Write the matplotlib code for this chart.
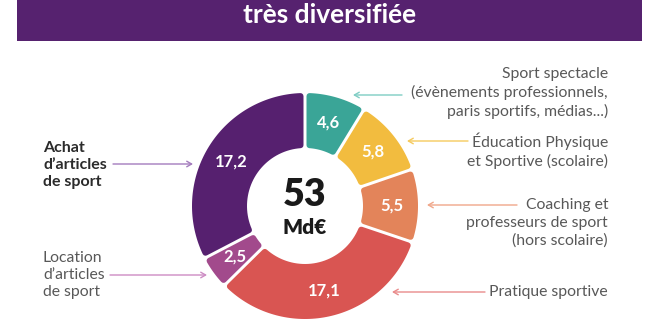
import numpy as np
import matplotlib
matplotlib.use("Agg")
import matplotlib.pyplot as plt
from matplotlib.patches import Polygon, Rectangle

plt.rcParams["font.family"] = ["Lato", "DejaVu Sans"]

# data
categories = [
    "Sport spectacle",
    "Éducation Physique et Sportive",
    "Coaching et professeurs",
    "Pratique sportive",
    "Location d'articles",
    "Achat d'articles",
]
values = [4.6, 5.8, 5.5, 17.1, 2.5, 17.2]
value_labels = ["4,6", "5,8", "5,5", "17,1", "2,5", "17,2"]
total_label = "53"
unit_label = "Md€"
title = "très diversifiée"

right_labels = [
    "Sport spectacle\n(évènements professionnels,\nparis sportifs, médias...)",
    "Éducation Physique\net Sportive (scolaire)",
    "Coaching et\nprofesseurs de sport\n(hors scolaire)",
    "Pratique sportive",
]
left_labels = ["Achat\nd’articles\nde sport", "Location\nd’articles\nde sport"]

colors = ["#3aa597", "#f2bc3f", "#e3845a", "#d95552", "#a24a8c", "#56206f"]
arrow_colors = ["#7fcdc4", "#f5ca5e", "#f0a78a", "#e98b8b", "#cd8cc4", "#a47cbd"]

W, H = 660, 336
fig = plt.figure(figsize=(W / 100, H / 100), dpi=100)
ax = fig.add_axes([0, 0, 1, 1])
ax.set_xlim(0, W)
ax.set_ylim(H, 0)
ax.axis("off")

# banner
ax.add_patch(Rectangle((17, -5), 625, 46, facecolor="#56226f", edgecolor="none"))
ax.text(329.5, 15, title, color="white", fontsize=19, fontweight="bold",
        ha="center", va="center")

# donut
cx, cy = 305, 206
R, r = 113, 58
gap = 3.0
rc = 3.0  # corner rounding

tot = sum(values)
cum = np.concatenate([[0], np.cumsum(values)])
for i, v in enumerate(values):
    a0 = np.radians(90 - 360 * cum[i] / tot)
    a1 = np.radians(90 - 360 * cum[i + 1] / tot)
    d = gap / 2 + rc
    Ro, Ri = R - rc, r + rc
    do, di = np.arcsin(d / Ro), np.arcsin(d / Ri)
    t_out = np.linspace(a0 - do, a1 + do, 80)
    t_in = np.linspace(a1 + di, a0 - di, 40)
    xs = np.concatenate([cx + Ro * np.cos(t_out), cx + Ri * np.cos(t_in)])
    ys = np.concatenate([cy - Ro * np.sin(t_out), cy - Ri * np.sin(t_in)])
    ax.add_patch(Polygon(np.column_stack([xs, ys]), closed=True,
                         facecolor=colors[i], edgecolor=colors[i],
                         linewidth=rc * 2 * 0.72, joinstyle="round"))
    am = (a0 + a1) / 2
    rm = (R + r) / 2 + 1
    ax.text(cx + rm * np.cos(am), cy - rm * np.sin(am), value_labels[i],
            color="white", fontsize=12, fontweight="bold", ha="center", va="center")

ax.text(cx, 195, total_label, fontsize=27, fontweight="heavy", color="#1a1a1a",
        ha="center", va="center")
ax.text(cx, 228, unit_label, fontsize=15, fontweight="heavy", color="#1a1a1a",
        ha="center", va="center")

# arrows (tail, head) in pixels
arrow_pos = [
    ((402, 95), (353, 95)),
    ((468, 141), (407, 141)),
    ((517, 205), (427, 205)),
    ((485, 292), (392, 292)),
    ((110, 275), (207, 275)),
    ((113, 164), (193, 164)),
]
for (tail, head), c in zip(arrow_pos, arrow_colors):
    ax.annotate("", xy=head, xytext=tail,
                arrowprops=dict(arrowstyle="->,head_length=0.35,head_width=0.2",
                                color=c, lw=1, shrinkA=0, shrinkB=0))

# right text
txt_gray = "#585858"
right_y = [93, 151, 223, 292]
for lab, y in zip(right_labels, right_y):
    ax.text(608, y, lab, fontsize=11.3, color=txt_gray,
            ha="right", va="center", linespacing=1.3)

# left text
ax.text(43, 165, left_labels[0], fontsize=11.5, fontweight="bold", color="#2b2b2b",
        ha="left", va="center", linespacing=1.3)
ax.text(43, 275, left_labels[1], fontsize=11.3, color=txt_gray,
        ha="left", va="center", linespacing=1.3)

fig.savefig("out.png", dpi=100)
